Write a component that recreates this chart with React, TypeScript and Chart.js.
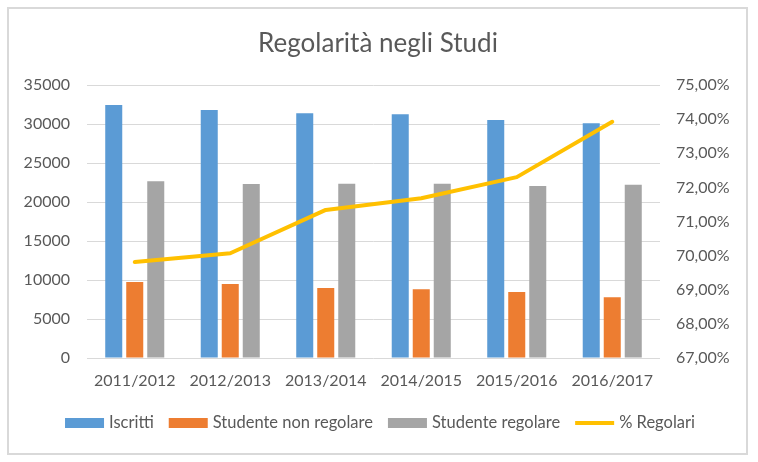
import React, { useEffect, useRef } from 'react';
import { Chart, registerables } from 'chart.js';

Chart.register(...registerables);

const title = 'Regolarità negli Studi';
const categories = ['2011/2012', '2012/2013', '2013/2014', '2014/2015', '2015/2016', '2016/2017'];
const iscritti = [32440, 31800, 31370, 31250, 30510, 30090];
const nonRegolari = [9740, 9490, 8970, 8800, 8460, 7780];
const regolari = [22650, 22310, 22350, 22350, 22050, 22220];
const percRegolari = [69.81, 70.07, 71.34, 71.68, 72.3, 73.92];
const seriesNames = ['Iscritti', 'Studente non regolare', 'Studente regolare', '% Regolari'];
const seriesColors = ['#5B9BD5', '#ED7D31', '#A5A5A5', '#FFC000'];
const leftAxis = { min: 0, max: 35000, step: 5000 };
const rightAxis = { min: 67, max: 75, step: 1 };

const FONT = 'Lato';
const TEXT = '#595959';
const GRID = '#D9D9D9';

const framePlugin = {
  id: 'frame',
  beforeDraw(chart: any) {
    const ctx = chart.ctx;
    ctx.save();
    ctx.fillStyle = '#FFFFFF';
    ctx.fillRect(0, 0, chart.width, chart.height);
    ctx.strokeStyle = GRID;
    ctx.lineWidth = 2;
    ctx.strokeRect(8, 8, 739, 446);
    ctx.fillStyle = TEXT;
    ctx.font = `26px ${FONT}`;
    ctx.textAlign = 'center';
    ctx.textBaseline = 'middle';
    ctx.fillText(title, 378, 44);
    ctx.restore();
  },
  afterDraw(chart: any) {
    const ctx = chart.ctx;
    ctx.save();
    ctx.font = `16.5px ${FONT}`;
    ctx.textBaseline = 'middle';
    ctx.textAlign = 'left';
    const boxW = 39;
    const gapText = 5;
    const gapItem = 15;
    const items = chart.data.datasets.map((ds: any) => ({
      label: ds.label,
      color: ds.type === 'line' ? ds.borderColor : ds.backgroundColor,
      isLine: ds.type === 'line',
      w: boxW + gapText + ctx.measureText(ds.label).width,
    }));
    const total = items.reduce((s: number, it: any) => s + it.w, 0) + gapItem * (items.length - 1);
    let x = 380 - total / 2;
    const cy = 423;
    items.forEach((it: any) => {
      ctx.fillStyle = it.color;
      if (it.isLine) {
        ctx.fillRect(x, cy - 2, boxW, 4);
      } else {
        ctx.fillRect(x, cy - 5, boxW, 10);
      }
      ctx.fillStyle = TEXT;
      ctx.fillText(it.label, x + boxW + gapText, cy);
      x += it.w + gapItem;
    });
    ctx.restore();
  },
};

export default function App() {
  const ref = useRef<HTMLCanvasElement | null>(null);

  useEffect(() => {
    if (!ref.current) return;
    const tickFont = { family: FONT, size: 16 };
    const chart = new Chart(ref.current, {
      type: 'bar',
      data: {
        labels: categories,
        datasets: [
          { type: 'bar', label: seriesNames[0], data: iscritti, backgroundColor: seriesColors[0], yAxisID: 'y', order: 2 },
          { type: 'bar', label: seriesNames[1], data: nonRegolari, backgroundColor: seriesColors[1], yAxisID: 'y', order: 2 },
          { type: 'bar', label: seriesNames[2], data: regolari, backgroundColor: seriesColors[2], yAxisID: 'y', order: 2 },
          {
            type: 'line', label: seriesNames[3], data: percRegolari, borderColor: seriesColors[3], backgroundColor: seriesColors[3],
            borderWidth: 4, pointRadius: 0, tension: 0, yAxisID: 'y1', order: 1,
            borderCapStyle: 'round', borderJoinStyle: 'round',
          } as any,
        ],
      },
      options: {
        responsive: false,
        animation: false,
        layout: { padding: { top: 85, bottom: 64, left: 0, right: 0 } },
        datasets: { bar: { categoryPercentage: 0.66, barPercentage: 0.81 } } as any,
        plugins: { legend: { display: false }, title: { display: false }, tooltip: { enabled: false } },
        scales: {
          x: {
            grid: { display: false, drawTicks: false },
            border: { display: false },
            ticks: { font: tickFont, color: TEXT, padding: 13, maxRotation: 0 },
            afterFit(scale: any) { scale.height = 40; },
          },
          y: {
            position: 'left',
            min: leftAxis.min, max: leftAxis.max,
            grid: { color: GRID, lineWidth: 1, drawTicks: false },
            border: { display: false },
            ticks: {
              stepSize: leftAxis.step, font: tickFont, color: TEXT, padding: 17,
              callback: (v: any) => String(Math.round(Number(v))),
            },
            afterFit(scale: any) { scale.width = 87; },
          },
          y1: {
            position: 'right',
            min: rightAxis.min, max: rightAxis.max,
            grid: { drawOnChartArea: false, drawTicks: false },
            border: { display: false },
            ticks: {
              stepSize: rightAxis.step, font: tickFont, color: TEXT, padding: 16,
              callback: (v: any) => Number(v).toFixed(2).replace('.', ',') + '%',
            },
            afterFit(scale: any) { scale.width = 98; },
          },
        },
      },
      plugins: [framePlugin],
    });
    return () => chart.destroy();
  }, []);

  return (
    <div style={{ position: 'absolute', left: 0, top: 0, width: 758, height: 462 }}>
      <canvas ref={ref} width={758} height={462} style={{ width: 758, height: 462, display: 'block' }} />
    </div>
  );
}
